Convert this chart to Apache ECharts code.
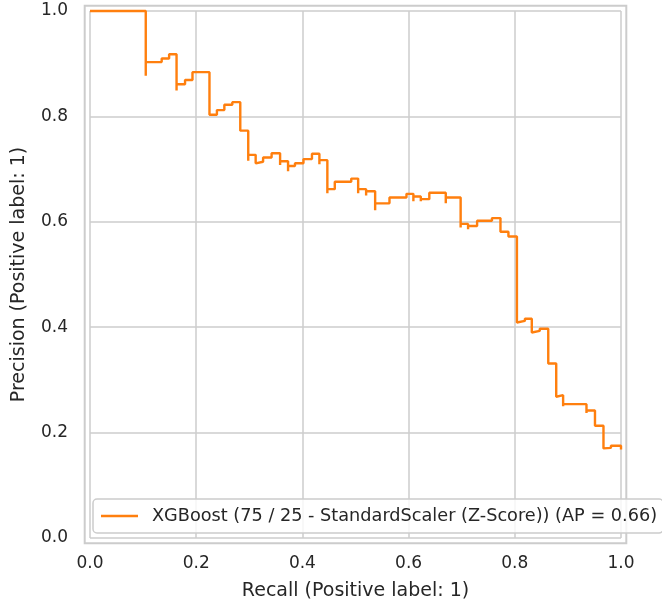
<!DOCTYPE html>
<html>
<head>
<meta charset="utf-8">
<script src="https://cdn.jsdelivr.net/npm/echarts@6/dist/echarts.min.js"></script>
<style>
  html, body { margin: 0; padding: 0; background: #fff; }
  #chart { width: 662px; height: 608px; }
</style>
</head>
<body>
<div id="chart"></div>
<script>
// precision-recall curve points (recall ascending)
const recall = [
  0, 0.105, 0.105, 0.135, 0.149, 0.163, 0.163, 0.179, 0.193, 0.225,
  0.239, 0.253, 0.268, 0.283, 0.298, 0.298, 0.312, 0.312, 0.326, 0.342,
  0.358, 0.358, 0.373, 0.373, 0.386, 0.402, 0.418, 0.432, 0.432, 0.447,
  0.447, 0.461, 0.492, 0.505, 0.505, 0.520, 0.520, 0.537, 0.537, 0.564,
  0.596, 0.609, 0.609, 0.623, 0.623, 0.639, 0.670, 0.670, 0.698, 0.698,
  0.712, 0.712, 0.729, 0.757, 0.773, 0.788, 0.804, 0.804, 0.819, 0.832,
  0.832, 0.847, 0.863, 0.878, 0.878, 0.891, 0.891, 0.935, 0.935, 0.951,
  0.967, 0.967, 0.981, 1.0, 1.0
]
const precision = [
  1.0, 1.0, 0.877, 0.903, 0.910, 0.918, 0.849, 0.861, 0.869, 0.884,
  0.803, 0.812, 0.822, 0.827, 0.773, 0.716, 0.727, 0.711, 0.714, 0.722,
  0.730, 0.708, 0.715, 0.696, 0.706, 0.711, 0.719, 0.729, 0.709, 0.717,
  0.654, 0.662, 0.676, 0.682, 0.654, 0.662, 0.650, 0.658, 0.622, 0.635,
  0.646, 0.653, 0.639, 0.648, 0.639, 0.643, 0.655, 0.635, 0.646, 0.589,
  0.596, 0.586, 0.592, 0.602, 0.607, 0.581, 0.572, 0.409, 0.412, 0.416,
  0.390, 0.393, 0.397, 0.331, 0.268, 0.271, 0.250, 0.254, 0.237, 0.242,
  0.213, 0.170, 0.171, 0.175, 0.168
]
const seriesName = 'XGBoost (75 / 25 - StandardScaler (Z-Score)) (AP = 0.66)'
const xLabel = 'Recall (Positive label: 1)'
const yLabel = 'Precision (Positive label: 1)'

const FONT = 'DejaVu Sans'
const TEXT = '#262626'
const GRID_COLOR = '#cccccc'
const ORANGE = '#ff7f0e'

const chart = echarts.init(document.getElementById('chart'), null, { renderer: 'canvas' })

const axisCommon = {
  type: 'value', min: 0, max: 1, interval: 0.2,
  axisLine: { show: false }, axisTick: { show: false },
  axisLabel: { color: TEXT, fontSize: 17, fontFamily: FONT, formatter: (v) => v.toFixed(1) },
  splitLine: { show: true, lineStyle: { color: GRID_COLOR, width: 1.5 } },
  nameLocation: 'middle',
  nameTextStyle: { color: TEXT, fontSize: 19, fontFamily: FONT },
}

chart.setOption({
  animation: false,
  backgroundColor: '#fff',
  textStyle: { fontFamily: FONT },
  grid: [
    { left: 90, right: 41, top: 11, bottom: 70 },
    // outer frame of the axes (limits -0.01..1.01)
    { left: 84.7, right: 35.7, top: 5.7, bottom: 64.7, show: true, borderColor: GRID_COLOR, borderWidth: 2, backgroundColor: 'transparent' },
  ],
  xAxis: [
    { ...axisCommon, gridIndex: 0, name: xLabel, nameGap: 44, axisLabel: { ...axisCommon.axisLabel, margin: 17 } },
    { type: 'value', gridIndex: 1, show: false, min: 0, max: 1 },
  ],
  yAxis: [
    { ...axisCommon, gridIndex: 0, name: yLabel, nameGap: 61, axisLabel: { ...axisCommon.axisLabel, margin: 22 } },
    { type: 'value', gridIndex: 1, show: false, min: 0, max: 1 },
  ],
  legend: {
    left: 93, top: 499,
    padding: [8, 6, 8, 8],
    backgroundColor: 'rgba(255,255,255,0.8)',
    borderColor: GRID_COLOR, borderWidth: 1.5, borderRadius: 4,
    icon: 'rect', itemWidth: 37, itemHeight: 2.4,
    textStyle: { color: TEXT, fontSize: 17.7, fontFamily: FONT, lineHeight: 18, padding: [0, 0, 0, 9] },
    data: [seriesName],
  },
  series: [
    {
      name: seriesName, type: 'line',
      xAxisIndex: 0, yAxisIndex: 0,
      data: recall.map((r, i) => [r, precision[i]]),
      step: 'start',
      symbol: 'none', clip: false,
      lineStyle: { color: ORANGE, width: 2.4 },
      itemStyle: { color: ORANGE },
    },
  ],
})
</script>
</body>
</html>
